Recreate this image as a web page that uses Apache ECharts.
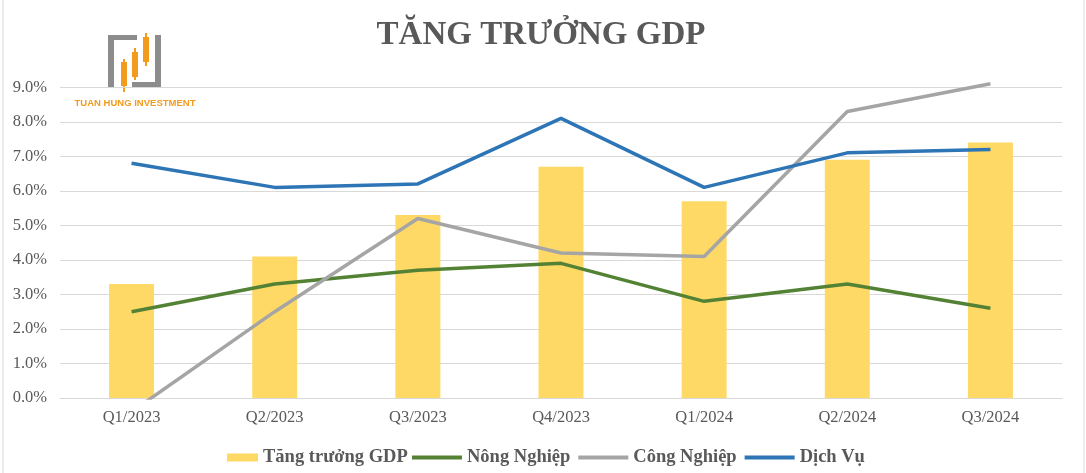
<!DOCTYPE html>
<html>
<head>
<meta charset="utf-8">
<script src="https://cdn.jsdelivr.net/npm/echarts@6/dist/echarts.min.js"></script>
<style>html,body{margin:0;padding:0;background:#fff}#c{width:1086px;height:473px}</style>
</head>
<body>
<div id="c"></div>
<script>
var categories = ['Q1/2023','Q2/2023','Q3/2023','Q4/2023','Q1/2024','Q2/2024','Q3/2024'];
var gdp = [3.3, 4.1, 5.3, 6.7, 5.7, 6.9, 7.4];
var nongNghiep = [2.5, 3.3, 3.7, 3.9, 2.8, 3.3, 2.6];
var congNghiep = [-0.4, 2.5, 5.2, 4.2, 4.1, 8.3, 9.1];
var dichVu = [6.8, 6.1, 6.2, 8.1, 6.1, 7.1, 7.2];
var yTicks = [0,1,2,3,4,5,6,7,8,9];

var serif = '"Liberation Serif","Times New Roman",serif';
var txt = '#595959';
var orange = '#F29B1E';
var gray = '#8C8C8C';
var chart = echarts.init(document.getElementById('c'));
var gridColors = yTicks.map(function(){return '#D9D9D9';}).concat(['rgba(0,0,0,0)']);
var legendText = {fontFamily: serif, fontWeight: 'bold', fontSize: 18.5, color: txt};
chart.setOption({
  animation: false,
  title: {
    text: 'TĂNG TRƯỞNG GDP', left: 536, top: 14, textAlign: 'center',
    textStyle: {fontFamily: serif, fontWeight: 'bold', fontSize: 33, color: txt}
  },
  grid: {left: 60, right: 24, top: 70, bottom: 75},
  legend: [{
    data: [{name: 'Tăng trưởng GDP', icon: 'rect'}], left: 222, top: 443, itemWidth: 31, itemHeight: 8,
    textStyle: legendText
  }, {
    data: [{name: 'Nông Nghiệp', icon: 'rect'}, {name: 'Công Nghiệp', icon: 'rect'}, {name: 'Dịch Vụ', icon: 'rect'}],
    left: 407, top: 443, itemWidth: 50, itemHeight: 4, itemGap: 8,
    textStyle: legendText
  }],
  xAxis: {
    type: 'category', data: categories,
    axisLine: {lineStyle: {color: '#D9D9D9'}}, axisTick: {show: false},
    axisLabel: {fontFamily: serif, fontSize: 16.5, color: txt, margin: 11}
  },
  yAxis: {
    type: 'value', min: 0, max: 9.5, interval: 1,
    axisLine: {show: false}, axisTick: {show: false},
    axisLabel: {fontFamily: serif, fontSize: 16.5, color: txt, margin: 13, showMaxLabel: false,
      formatter: function(v){return v.toFixed(1) + '%';}},
    splitLine: {lineStyle: {color: gridColors, width: 1}}
  },
  series: [{
    name: 'Tăng trưởng GDP', type: 'bar', data: gdp, barWidth: 45,
    itemStyle: {color: '#FFD966'}
  }, {
    name: 'Nông Nghiệp', type: 'line', data: nongNghiep, showSymbol: false, symbol: 'none',
    lineStyle: {color: '#548235', width: 3.5}, itemStyle: {color: '#548235'}
  }, {
    name: 'Công Nghiệp', type: 'line', data: congNghiep, showSymbol: false, symbol: 'none',
    lineStyle: {color: '#A5A5A5', width: 3.5}, itemStyle: {color: '#A5A5A5'}
  }, {
    name: 'Dịch Vụ', type: 'line', data: dichVu, showSymbol: false, symbol: 'none',
    lineStyle: {color: '#2E75B6', width: 3.5}, itemStyle: {color: '#2E75B6'}
  }],
  graphic: [
    {type: 'line', shape: {x1: 3, y1: 0, x2: 3, y2: 473}, style: {stroke: '#D9D9D9', lineWidth: 1}},
    {type: 'line', shape: {x1: 1084, y1: 0, x2: 1084, y2: 473}, style: {stroke: '#D9D9D9', lineWidth: 1}},
    {type: 'rect', shape: {x: 108, y: 35, width: 29, height: 5}, style: {fill: gray}},
    {type: 'rect', shape: {x: 108, y: 35, width: 6, height: 52}, style: {fill: gray}},
    {type: 'rect', shape: {x: 155, y: 35, width: 6, height: 52}, style: {fill: gray}},
    {type: 'rect', shape: {x: 132, y: 82, width: 29, height: 5}, style: {fill: gray}},
    {type: 'rect', shape: {x: 123, y: 59, width: 2, height: 33}, style: {fill: orange}},
    {type: 'rect', shape: {x: 121, y: 62, width: 6, height: 24}, style: {fill: orange}},
    {type: 'rect', shape: {x: 134, y: 48, width: 2, height: 32}, style: {fill: orange}},
    {type: 'rect', shape: {x: 132, y: 52, width: 6, height: 25}, style: {fill: orange}},
    {type: 'rect', shape: {x: 145, y: 33, width: 2, height: 33}, style: {fill: orange}},
    {type: 'rect', shape: {x: 143, y: 37, width: 6, height: 25}, style: {fill: orange}},
    {type: 'text', x: 135, y: 103, style: {text: 'TUAN HUNG INVESTMENT', fill: orange,
      font: 'bold 9.5px "Liberation Sans", Arial, sans-serif', align: 'center', verticalAlign: 'middle'}}
  ]
});
</script>
</body>
</html>
